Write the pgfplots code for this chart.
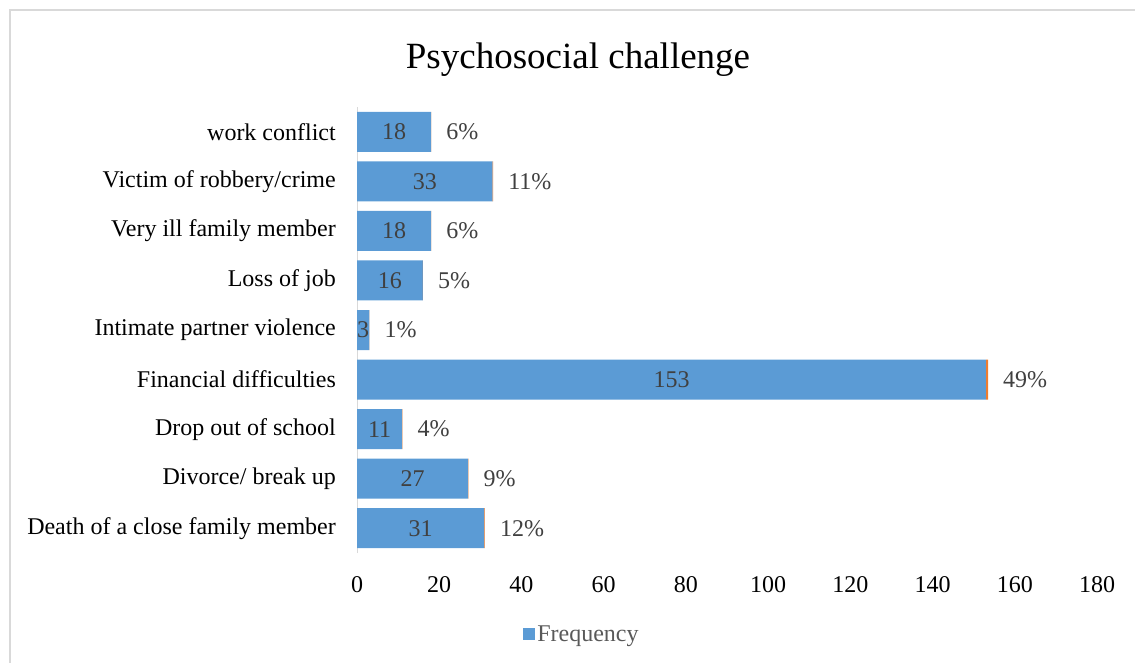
\documentclass[border=0pt]{standalone}
\usepackage{pgfplots}
\pgfplotsset{compat=1.18}
\usepackage{pgfplotstable}
\usepackage{fontspec}
\setmainfont{Liberation Serif}
\definecolor{c1}{HTML}{5B9BD5}
\definecolor{c2}{HTML}{ED7D31}
\definecolor{lbl}{HTML}{404040}
\definecolor{leg}{HTML}{595959}
\definecolor{bord}{HTML}{D9D9D9}

\pgfplotstableread{
y f pc
0 31 12
1 27 9
2 11 4
3 153 49
4 3 1
5 16 5
6 18 6
7 33 11
8 18 6
}\datatable

\begin{document}
\begin{tikzpicture}
\useasboundingbox (0,0) rectangle (1135bp,663bp);
\draw[bord, line width=1.2bp] (10bp,-10bp) |- (1145bp,653bp);
\node[anchor=base, font=\fontsize{37bp}{44bp}\selectfont] at (578bp,594bp) {Psychosocial challenge};
\begin{axis}[
 at={(357bp,110bp)}, anchor=south west,
 scale only axis, width=740bp, height=446bp,
 xmin=0, xmax=180, ymin=-0.5, ymax=8.5,
 xtick={0,20,...,180},
 ytick={0,...,8},
 yticklabels={Death of a close family member, Divorce/ break up, Drop out of school, Financial difficulties, Intimate partner violence, Loss of job, Very ill family member, Victim of robbery/crime, work conflict},
 axis lines*=left,
 x axis line style={draw=none},
 y axis line style={draw=bord, line width=1bp},
 major tick length=0pt,
 tick label style={font=\fontsize{24bp}{28bp}\selectfont, text=black},
 /pgf/number format/assume math mode=true,
 xticklabel style={anchor=north, inner sep=0pt, yshift=-23bp},
 yticklabel style={anchor=east, inner sep=0pt, xshift=-21bp},
 legend style={at={(0.304,-0.182)}, anchor=center, draw=none, fill=none, inner sep=0pt,
   font=\fontsize{24bp}{28bp}\selectfont, text=leg},
 clip=false,
]
\addplot[xbar stacked, bar width=40bp, fill=c1, draw=none,
  legend image code/.code={\fill[c1] (0bp,-6bp) rectangle (12bp,6bp);}]
  table[x=f, y=y] {\datatable};
\addplot[xbar stacked, bar width=40bp, fill=c2, draw=none, forget plot]
  table[x expr=\thisrow{pc}/100, y=y] {\datatable};
\addplot[only marks, mark=none, forget plot,
  point meta=\thisrow{f}, nodes near coords,
  every node near coord/.append style={anchor=center, font=\fontsize{24bp}{28bp}\selectfont, text=lbl}]
  table[x expr=\thisrow{f}/2, y=y] {\datatable};
\addplot[only marks, mark=none, forget plot,
  point meta=\thisrow{pc}, nodes near coords={\pgfmathprintnumber{\pgfplotspointmeta}\%},
  every node near coord/.append style={anchor=west, inner sep=0pt, xshift=15bp, font=\fontsize{24bp}{28bp}\selectfont, text=lbl}]
  table[x expr=\thisrow{f}+\thisrow{pc}/100, y=y] {\datatable};
\legend{Frequency}
\end{axis}
\end{tikzpicture}
\end{document}
